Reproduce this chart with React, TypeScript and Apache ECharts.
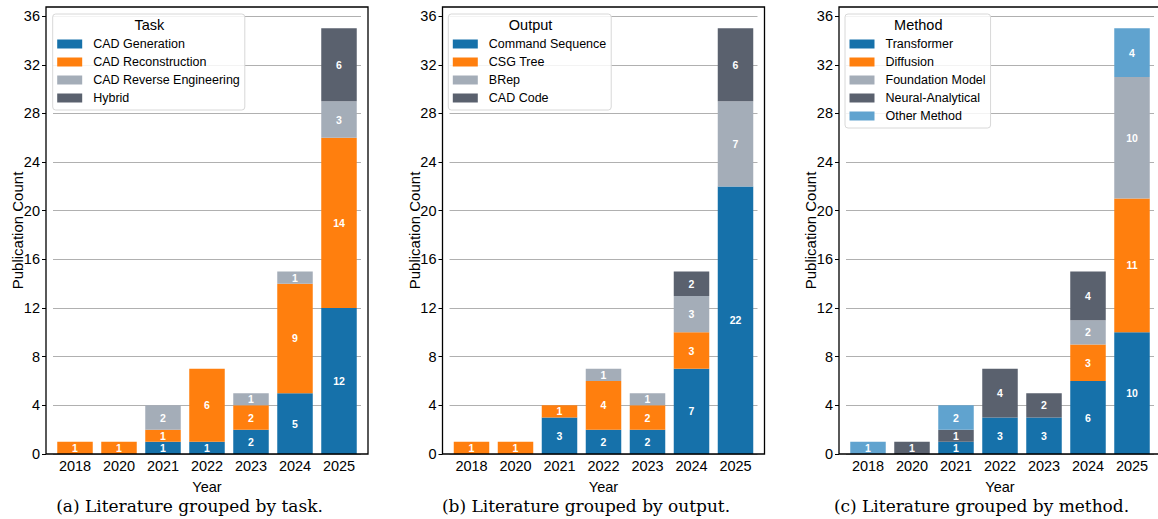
import React, { useEffect, useRef } from "react";
import * as echarts from "echarts";

// ---- data ----
const years = ["2018", "2020", "2021", "2022", "2023", "2024", "2025"];
const yTicks = [0, 4, 8, 12, 16, 20, 24, 28, 32, 36];

// (a) by task
const taskNames = ["CAD Generation", "CAD Reconstruction", "CAD Reverse Engineering", "Hybrid"];
const cadGeneration = [0, 0, 1, 1, 2, 5, 12];
const cadReconstruction = [1, 1, 1, 6, 2, 9, 14];
const cadReverseEngineering = [0, 0, 2, 0, 1, 1, 3];
const hybrid = [0, 0, 0, 0, 0, 0, 6];

// (b) by output
const outputNames = ["Command Sequence", "CSG Tree", "BRep", "CAD Code"];
const commandSequence = [0, 0, 3, 2, 2, 7, 22];
const csgTree = [1, 1, 1, 4, 2, 3, 0];
const brep = [0, 0, 0, 1, 1, 3, 7];
const cadCode = [0, 0, 0, 0, 0, 2, 6];

// (c) by method
const methodNames = ["Transformer", "Diffusion", "Foundation Model", "Neural-Analytical", "Other Method"];
const transformer = [0, 0, 1, 3, 3, 6, 10];
const diffusion = [0, 0, 0, 0, 0, 3, 11];
const foundationModel = [0, 0, 0, 0, 0, 2, 10];
const neuralAnalytical = [0, 1, 1, 4, 2, 4, 0];
const otherMethod = [1, 0, 2, 0, 0, 0, 4];

const legendTitles = ["Task", "Output", "Method"];
const captions = [
  "(a) Literature grouped by task.",
  "(b) Literature grouped by output.",
  "(c) Literature grouped by method.",
];

// ---- styles ----
const BLUE = "#1671aa";
const ORANGE = "#ff7f0e";
const LGRAY = "#a4adb8";
const DGRAY = "#5a616e";
const LBLUE = "#60a3cf";

const panels = [
  { names: taskNames, values: [cadGeneration, cadReconstruction, cadReverseEngineering, hybrid], colors: [BLUE, ORANGE, LGRAY, DGRAY] },
  { names: outputNames, values: [commandSequence, csgTree, brep, cadCode], colors: [BLUE, ORANGE, LGRAY, DGRAY] },
  { names: methodNames, values: [transformer, diffusion, foundationModel, neuralAnalytical, otherMethod], colors: [BLUE, ORANGE, LGRAY, DGRAY, LBLUE] },
];

const FONT = "'Liberation Sans', Arial, sans-serif";
const frameLefts = [46, 442.5, 839];
const FRAME_W = 322;
const GRID_INSET = 7;
const GRID_W = 308;
const TOP = 7;
const H = 447;
const legendLefts = [52.7, 448.3, 845];
const titleCenters = [149.3, 530.6, 918.3];
const captionCenters = [189.5, 586, 981.5];

export default function App() {
  const ref = useRef<HTMLDivElement>(null);
  useEffect(() => {
    if (!ref.current) return;
    const chart = echarts.init(ref.current, undefined, { renderer: "svg" });

    const grid: any[] = [];
    const xAxis: any[] = [];
    const yAxis: any[] = [];
    const series: any[] = [];
    const legend: any[] = [];
    const graphic: any[] = [];

    panels.forEach((p, i) => {
      grid.push({ left: frameLefts[i] + GRID_INSET, top: TOP, width: GRID_W, height: H, containLabel: false });
      xAxis.push({
        type: "category",
        gridIndex: i,
        data: years,
        axisLine: { show: false },
        axisTick: { show: false },
        axisLabel: { color: "#000", fontFamily: FONT, fontSize: 14.5, margin: 4 },
        name: "Year",
        nameLocation: "middle",
        nameGap: 25,
        nameMoveOverlap: false,
        nameTextStyle: { color: "#000", fontFamily: FONT, fontSize: 14.5 },
      });
      yAxis.push({
        type: "value",
        gridIndex: i,
        min: 0,
        max: 36.75,
        interval: 4,
        offset: GRID_INSET,
        axisLine: { show: false },
        axisTick: { show: true, length: 4, lineStyle: { color: "#000" }, customValues: yTicks },
        axisLabel: { color: "#000", fontFamily: FONT, fontSize: 14.5, margin: 6, customValues: yTicks },
        splitLine: { show: true, lineStyle: { color: "#b0b0b0", width: 1 } },
        name: "Publication Count",
        nameLocation: "middle",
        nameGap: 21,
        nameMoveOverlap: false,
        nameTextStyle: { color: "#000", fontFamily: FONT, fontSize: 15 },
      });
      p.names.forEach((n, k) => {
        series.push({
          type: "bar",
          name: n,
          xAxisIndex: i,
          yAxisIndex: i,
          stack: "s" + i,
          barWidth: 35.5,
          data: p.values[k],
          itemStyle: { color: p.colors[k] },
          label: {
            show: true,
            position: "inside",
            color: "#fff",
            fontWeight: "bold",
            fontFamily: FONT,
            fontSize: 10.5,
            formatter: (q: any) => (q.value ? String(q.value) : ""),
          },
        });
      });
      legend.push({
        data: p.names,
        orient: "vertical",
        left: legendLefts[i],
        top: 14,
        icon: "rect",
        itemWidth: 25,
        itemHeight: 9,
        itemGap: 4,
        padding: [23, 5, 5, 4.5],
        backgroundColor: "rgba(255,255,255,0.85)",
        borderColor: "#d8d8d8",
        borderWidth: 1,
        borderRadius: 3,
        selectedMode: false,
        textStyle: { color: "#000", fontFamily: FONT, fontSize: 12.5, lineHeight: 14, padding: [0, 0, 0, 6] },
      });
      graphic.push({
        type: "rect",
        shape: { x: frameLefts[i], y: TOP, width: FRAME_W, height: H },
        style: { fill: "none", stroke: "#000", lineWidth: 1.3 },
        z: 100,
        silent: true,
      });
      graphic.push({
        type: "text",
        x: titleCenters[i],
        y: 25,
        style: { text: legendTitles[i], fill: "#000", font: `14.5px ${FONT}`, textAlign: "center", textVerticalAlign: "middle" },
        z: 120,
      });
      graphic.push({
        type: "text",
        x: captionCenters[i],
        y: 506,
        style: { text: captions[i], fill: "#000", font: `17px 'DejaVu Serif', serif`, textAlign: "center", textVerticalAlign: "middle" },
      });
    });

    chart.setOption({
      animation: false,
      backgroundColor: "#fff",
      grid,
      xAxis,
      yAxis,
      series,
      legend,
      graphic,
    });
    return () => chart.dispose();
  }, []);
  return <div ref={ref} style={{ position: "absolute", left: 0, top: 0, width: 1158, height: 519 }} />;
}
